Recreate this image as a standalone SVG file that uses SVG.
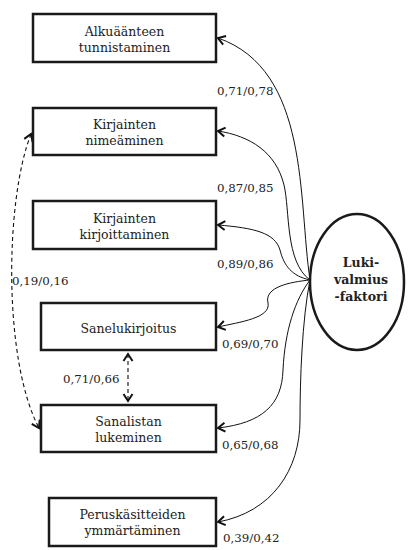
<svg xmlns="http://www.w3.org/2000/svg" width="408" height="550" viewBox="0 0 408 550">
<defs>
<style>
.box{fill:#fff;stroke:#1a1a1a;stroke-width:2.5}
.t{font-family:"DejaVu Serif","Liberation Serif",serif;font-size:12.5px;fill:#222;text-anchor:middle}
.n{font-family:"DejaVu Serif","Liberation Serif",serif;font-size:11.8px;fill:#222}
.b{font-family:"DejaVu Serif","Liberation Serif",serif;font-size:12.5px;font-weight:bold;fill:#222;text-anchor:middle}
.c{fill:none;stroke:#111;stroke-width:1}
.d{fill:none;stroke:#111;stroke-width:1.1;stroke-dasharray:4,3}
</style>
<marker id="ah" markerUnits="userSpaceOnUse" markerWidth="14" markerHeight="14" viewBox="-10 -7 12 14" refX="0" refY="0" orient="auto">
<path d="M-7,-4.5 L0,0 L-7,4.5" fill="none" stroke="#111" stroke-width="2"/>
</marker>
<marker id="as" markerUnits="userSpaceOnUse" markerWidth="14" markerHeight="14" viewBox="-10 -7 12 14" refX="0" refY="0" orient="auto-start-reverse">
<path d="M-7,-4.5 L0,0 L-7,4.5" fill="none" stroke="#111" stroke-width="2"/>
</marker>
</defs>
<rect width="408" height="550" fill="#fff"/>
<g id="connectors">
<path class="c" d="M310,280 C298,200 310,70 218,38" marker-end="url(#ah)"/>
<path class="c" d="M310,280 C285,262 290,210 284,185 C276,152 250,136 218,131" marker-end="url(#ah)"/>
<path class="c" d="M310,280 C292,276 284,266 280,250 C275,233 255,228 218,225" marker-end="url(#ah)"/>
<path class="c" d="M310,280 C290,282 264,287 268,303 C271,318 240,322 218,327" marker-end="url(#ah)"/>
<path class="c" d="M310,280 C295,300 285,330 283,370 C282,405 262,423 218,428" marker-end="url(#ah)"/>
<path class="c" d="M310,280 C302,320 300,380 300,420 C300,470 272,512 218,522" marker-end="url(#ah)"/>
<path class="d" d="M31,134 C5,200 3,360 39,428" marker-start="url(#as)" marker-end="url(#ah)"/>
<path class="d" d="M128,354 L128,401" marker-start="url(#as)" marker-end="url(#ah)"/>
</g>
<g id="labels">
<text class="n" x="217" y="95">0,71/0,78</text>
<text class="n" x="217" y="192">0,87/0,85</text>
<text class="n" x="217" y="268">0,89/0,86</text>
<text class="n" x="12" y="285">0,19/0,16</text>
<text class="n" x="222" y="348">0,69/0,70</text>
<text class="n" x="63" y="383">0,71/0,66</text>
<text class="n" x="222" y="449">0,65/0,68</text>
<text class="n" x="223" y="542">0,39/0,42</text>
</g>
<g id="n1"><rect class="box" x="33" y="14" width="183" height="48"/><text class="t" x="124.5" y="36">Alkuäänteen</text><text class="t" x="124.5" y="52">tunnistaminen</text></g>
<g id="n2"><rect class="box" x="33" y="108" width="183" height="47"/><text class="t" x="124.5" y="129">Kirjainten</text><text class="t" x="124.5" y="145">nimeäminen</text></g>
<g id="n3"><rect class="box" x="33" y="201" width="183" height="48"/><text class="t" x="124.5" y="223">Kirjainten</text><text class="t" x="124.5" y="239">kirjoittaminen</text></g>
<g id="n4"><rect class="box" x="41" y="303" width="175" height="47"/><text class="t" x="128.5" y="333">Sanelukirjoitus</text></g>
<g id="n5"><rect class="box" x="41" y="405" width="175" height="47"/><text class="t" x="128.5" y="426">Sanalistan</text><text class="t" x="128.5" y="442">lukeminen</text></g>
<g id="n6"><rect class="box" x="49" y="498" width="167" height="48"/><text class="t" x="132.5" y="519">Peruskäsitteiden</text><text class="t" x="132.5" y="535">ymmärtäminen</text></g>
<g id="factor"><ellipse cx="357" cy="282" rx="47" ry="68" fill="#fff" stroke="#1a1a1a" stroke-width="2.5"/><text class="b" x="361" y="267">Luki-</text><text class="b" x="361" y="284">valmius</text><text class="b" x="361" y="301">-faktori</text></g>
</svg>
